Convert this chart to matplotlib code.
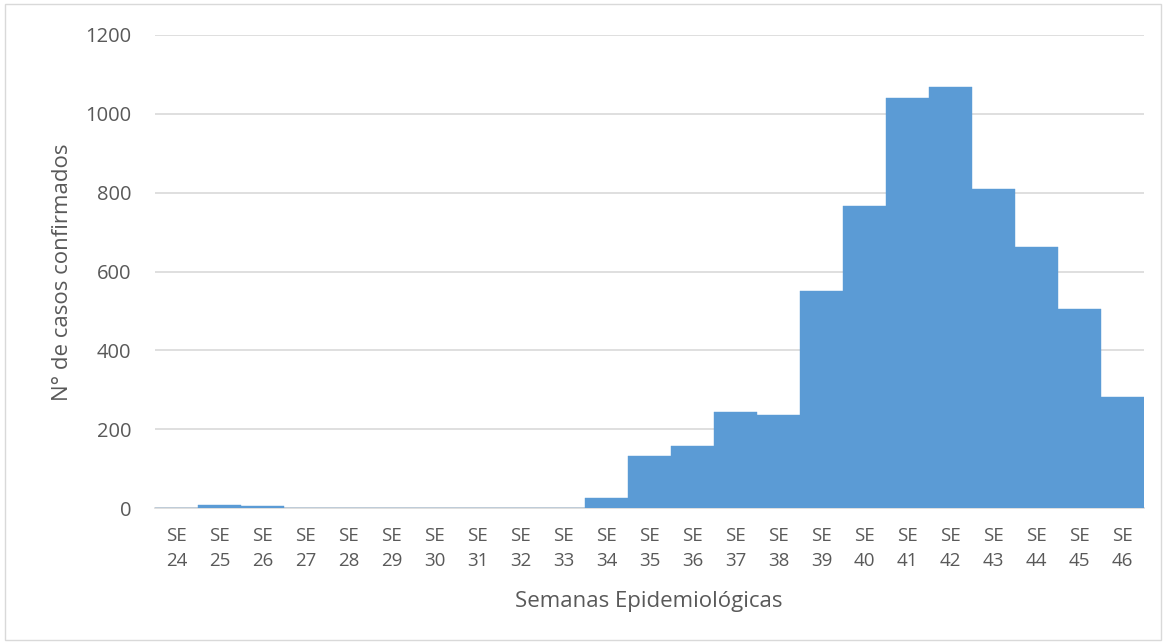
import matplotlib
matplotlib.use("Agg")
import matplotlib.pyplot as plt
from matplotlib.patches import Rectangle

weeks = list(range(24, 47))
labels = [f"SE\n{w}" for w in weeks]
cases = [0, 8, 4, 1, 0, 0, 0, 1, 1, 0, 25, 132, 157, 243, 236, 550, 767,
         1041, 1067, 809, 662, 505, 282]
yticks = [0, 200, 400, 600, 800, 1000, 1200]

plt.rcParams['font.family'] = ['Open Sans', 'DejaVu Sans']
txt = '#595959'

fig = plt.figure(figsize=(11.66, 6.43), dpi=100)
ax = fig.add_axes([155/1166, 1-508/643, (1144-155)/1166, (508-35)/643])
x = list(range(len(weeks)))
ax.bar(x, cases, width=1.0, color='#5B9BD5', edgecolor='#5B9BD5', linewidth=0.3, zorder=3)
ax.set_xlim(-0.5, len(weeks)-0.5)
ax.set_ylim(0, 1200)
ax.set_yticks(yticks)
ax.set_yticklabels([str(v) for v in yticks], fontsize=14.5, color=txt)
ax.set_xticks(x)
ax.set_xticklabels(labels, fontsize=13.5, color=txt, linespacing=1.45)
ax.tick_params(axis='both', length=0)
ax.tick_params(axis='y', pad=17)
ax.tick_params(axis='x', pad=14)
ax.grid(axis='y', color='#D9D9D9', linewidth=1.2, zorder=0)
for s in ['top', 'right', 'left']:
    ax.spines[s].set_visible(False)
ax.spines['bottom'].set_color('#D9D9D9')
ax.spines['bottom'].set_linewidth(1.2)
ax.set_xlabel('Semanas Epidemiológicas', fontsize=16, color=txt)
ax.set_ylabel('N° de casos confirmados', fontsize=16, color=txt)
ax.xaxis.set_label_coords((649-155)/(1144-155), (508-601)/(508-35), transform=ax.transAxes)
ax.xaxis.label.set_va('center')
ax.yaxis.set_label_coords((62-155)/(1144-155), (508-272)/(508-35), transform=ax.transAxes)
ax.yaxis.label.set_va('center')

fig.patches.append(Rectangle((0.004, 0.004), 0.992, 0.99, transform=fig.transFigure,
                             fill=False, edgecolor='#D9D9D9', linewidth=1))
fig.savefig('out.png', dpi=100)
